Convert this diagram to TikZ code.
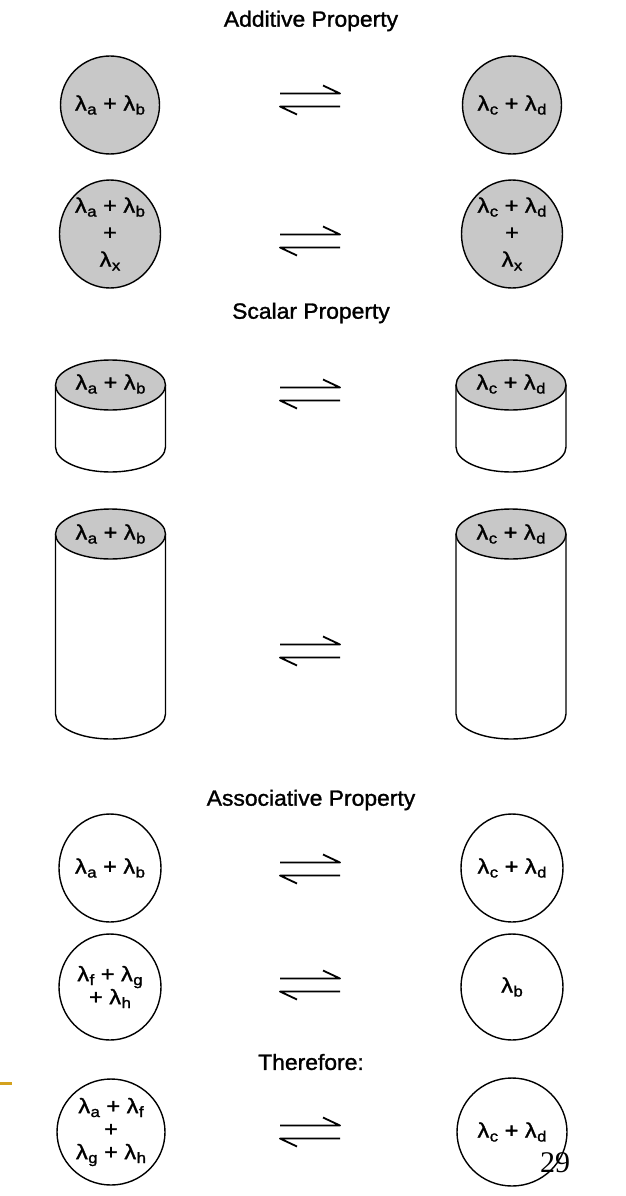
\documentclass[tikz,border=0pt]{standalone}
\usepackage{fontspec}
\setmainfont{Liberation Sans}[FakeBold=1.3]
\newfontfamily\numfont{Liberation Serif}
\usetikzlibrary{shapes.geometric}
\definecolor{cellgray}{RGB}{200,200,200}
\definecolor{barorange}{RGB}{212,162,30}
\newcommand{\lm}[1]{λ\kern0.02em\raisebox{-0.35ex}{\fontsize{15}{15}\selectfont #1}}
\newcommand{\wide}[1]{\scalebox{1.12}[1]{#1}}
\newcommand{\twide}[1]{\scalebox{1.04}[1]{#1}}
\begin{document}
\begin{tikzpicture}[x=1pt,y=-1pt,
  title/.style={font=\fontsize{22}{24}\selectfont, inner sep=0},
  ball/.style={ellipse, draw, line width=1.4pt, inner sep=0, font=\fontsize{21}{26}\selectfont, align=center},
  filled/.style={fill=cellgray},
  lbl/.style={font=\fontsize{21}{24}\selectfont, inner sep=0},
  cylbody/.style={line width=1.4pt, fill=white},
  cyltop/.style={line width=1.4pt, fill=cellgray},
  eqline/.style={line width=1.8pt, line join=round},
  pics/eq/.style={code={
    \draw[eqline] (-30,-6.5) -- (30,-6.5) -- (13,-14.5);
    \draw[eqline] (30,6.5) -- (-30,6.5) -- (-13,14.5);
  }}
]
\useasboundingbox (0,0) rectangle (625,1196);
\fill[white] (0,0) rectangle (625,1196);

% ---------- Additive Property ----------
\node[title] (t1) at (311,21) {\twide{Additive Property}};
\node[ball, filled, minimum width=99pt, minimum height=98pt] (a1) at (110,105) {\wide{\lm{a} + \lm{b}}};
\node[ball, filled, minimum width=99pt, minimum height=98pt] (a2) at (512,105) {\wide{\lm{c} + \lm{d}}};
\pic at (310,100) {eq};
\node[ball, filled, minimum width=101pt, minimum height=108pt] (a3) at (110,234) {\wide{\lm{a} + \lm{b}}\\[1pt] \wide{+}\\[1pt] \wide{\lm{x}}};
\node[ball, filled, minimum width=101pt, minimum height=108pt] (a4) at (512,234) {\wide{\lm{c} + \lm{d}}\\[1pt] \wide{+}\\[1pt] \wide{\lm{x}}};
\pic at (310,241) {eq};

% ---------- Scalar Property ----------
\node[title] (t2) at (311,313) {\twide{Scalar Property}};
% short cylinders
\draw[cylbody] (55.5,385) -- (55.5,447) arc[start angle=180,end angle=360,x radius=55pt,y radius=25pt] -- (165.5,385);
\draw[cyltop] (110.5,385) ellipse [x radius=55pt, y radius=25pt];
\node[lbl] (s1) at (110.5,384) {\wide{\lm{a} + \lm{b}}};
\draw[cylbody] (456,385) -- (456,447) arc[start angle=180,end angle=360,x radius=55pt,y radius=25pt] -- (566,385);
\draw[cyltop] (511,385) ellipse [x radius=55pt, y radius=25pt];
\node[lbl] (s2) at (511,384) {\wide{\lm{c} + \lm{d}}};
\pic at (310,394) {eq};
% tall cylinders
\draw[cylbody] (55.5,534) -- (55.5,714) arc[start angle=180,end angle=360,x radius=55pt,y radius=25pt] -- (165.5,534);
\draw[cyltop] (110.5,534) ellipse [x radius=55pt, y radius=25pt];
\node[lbl] (s3) at (110.5,534) {\wide{\lm{a} + \lm{b}}};
\draw[cylbody] (456,534) -- (456,714) arc[start angle=180,end angle=360,x radius=55pt,y radius=25pt] -- (566,534);
\draw[cyltop] (511,534) ellipse [x radius=55pt, y radius=25pt];
\node[lbl] (s4) at (511,534) {\wide{\lm{c} + \lm{d}}};
\pic at (310,651) {eq};

% ---------- Associative Property ----------
\node[title] (t3) at (311,800) {\twide{Associative Property}};
\node[ball, minimum width=102pt, minimum height=108pt] (b1) at (110,868) {\wide{\lm{a} + \lm{b}}};
\node[ball, minimum width=102pt, minimum height=108pt] (b2) at (512,868) {\wide{\lm{c} + \lm{d}}};
\pic at (310,869) {eq};
\node[ball, minimum width=102pt, minimum height=106pt] (b3) at (110,987) {\wide{\lm{f} + \lm{g}}\\[-3pt] \wide{+ \lm{h}}};
\node[ball, minimum width=102pt, minimum height=106pt] (b4) at (512,987) {\wide{\lm{b}}};
\pic at (310,985) {eq};

% ---------- Therefore ----------
\node[title] (t4) at (311,1062) {\twide{Therefore:}};
\draw[barorange, line width=3pt] (0,1083) -- (12,1083);
\node[ball, minimum width=108pt, minimum height=106pt] (c1) at (111,1132) {\wide{\lm{a} + \lm{f}}\\[-3pt] \wide{+}\\[-3pt] \wide{\lm{g} + \lm{h}}};
\node[ball, minimum width=110pt, minimum height=108pt] (c2) at (512,1132) {\wide{\lm{c} + \lm{d}}};
\pic at (310,1132) {eq};
\node[inner sep=0, font=\numfont\fontsize{30}{30}\selectfont] (pg) at (555,1163) {29};
\end{tikzpicture}
\end{document}
